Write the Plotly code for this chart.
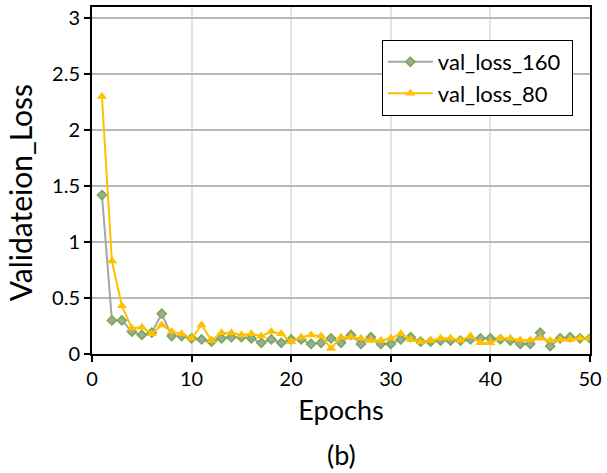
import plotly.graph_objects as go

epochs = list(range(1, 51))
val_loss_160 = [1.42, 0.30, 0.30, 0.20, 0.17, 0.19, 0.36, 0.16, 0.16, 0.14,
                0.13, 0.11, 0.14, 0.15, 0.15, 0.14, 0.10, 0.13, 0.10, 0.13,
                0.13, 0.09, 0.10, 0.14, 0.10, 0.17, 0.09, 0.15, 0.09, 0.09,
                0.13, 0.15, 0.11, 0.11, 0.12, 0.12, 0.12, 0.13, 0.14, 0.14,
                0.13, 0.12, 0.09, 0.09, 0.19, 0.07, 0.14, 0.15, 0.14, 0.14]
val_loss_80 = [2.30, 0.83, 0.43, 0.23, 0.24, 0.18, 0.26, 0.20, 0.18, 0.14,
               0.26, 0.12, 0.19, 0.19, 0.17, 0.18, 0.16, 0.20, 0.18, 0.11,
               0.15, 0.17, 0.16, 0.05, 0.15, 0.15, 0.14, 0.12, 0.12, 0.14,
               0.18, 0.13, 0.11, 0.12, 0.14, 0.14, 0.12, 0.16, 0.10, 0.10,
               0.14, 0.14, 0.125, 0.125, 0.14, 0.12, 0.13, 0.13, 0.14, 0.14]

x_ticks = [0, 10, 20, 30, 40, 50]
y_ticks = [0, 0.5, 1, 1.5, 2, 2.5, 3]
y_tick_labels = ["0", "0.5", "1", "1.5", "2", "2.5", "3"]

FONT = "Lato"
NBSP = "\u00a0"

fig = go.Figure()
fig.add_trace(go.Scatter(
    x=epochs, y=val_loss_160, name="val_loss_160" + NBSP,
    mode="lines+markers",
    line=dict(color="#A5A5A5", width=2),
    marker=dict(symbol="diamond", size=7, color="#A5A5A5",
                line=dict(color="#70AD47", width=1.5)),
))
fig.add_trace(go.Scatter(
    x=epochs, y=val_loss_80, name="val_loss_80", mode="lines+markers",
    line=dict(color="#FFC000", width=2),
    marker=dict(symbol="triangle-up", size=9, color="#FFC000"),
))

fig.update_layout(
    width=607, height=473,
    margin=dict(l=92, r=15, t=5, b=119),
    paper_bgcolor="white", plot_bgcolor="white",
    font=dict(family=FONT, color="black"),
    showlegend=True,
    legend=dict(x=0.582, y=0.905, xanchor="left", yanchor="top",
                bgcolor="white", bordercolor="black", borderwidth=1,
                font=dict(size=22, family=FONT), tracegroupgap=0,
                itemwidth=45),
    annotations=[
        dict(text="(b)", xref="paper", yref="paper", x=0.5,
             y=-0.235, yanchor="top", showarrow=False,
             font=dict(size=27, family=FONT)),
        dict(text="Validateion_Loss", xref="paper", yref="paper",
             x=-0.144, y=0.464, xanchor="center", yanchor="middle",
             textangle=-90, showarrow=False,
             font=dict(size=30, family=FONT)),
    ],
)
fig.update_xaxes(
    range=[0, 50], tickvals=x_ticks, ticks="outside", ticklen=6,
    tickcolor="black", tickwidth=1.5,
    showline=True, linecolor="black", linewidth=2, mirror=True,
    showgrid=True, gridcolor="#E3E3E3", gridwidth=1.5, zeroline=False,
    tickfont=dict(size=20, family=FONT),
    title=dict(text="Epochs", font=dict(size=27, family=FONT), standoff=12),
)
fig.update_yaxes(
    range=[0, 3.1], tickvals=y_ticks, ticktext=y_tick_labels,
    ticks="outside", ticklen=6, tickcolor="black", tickwidth=1.5,
    showline=True, linecolor="black", linewidth=2, mirror=True,
    showgrid=True, gridcolor="#B8B8B8", gridwidth=1.5, zeroline=False,
    tickfont=dict(size=20, family=FONT),
)

fig.write_html("out.html",
               config={"displayModeBar": False},
               post_script="document.body.style.margin='0';"
                           "document.body.style.overflow='hidden';")
